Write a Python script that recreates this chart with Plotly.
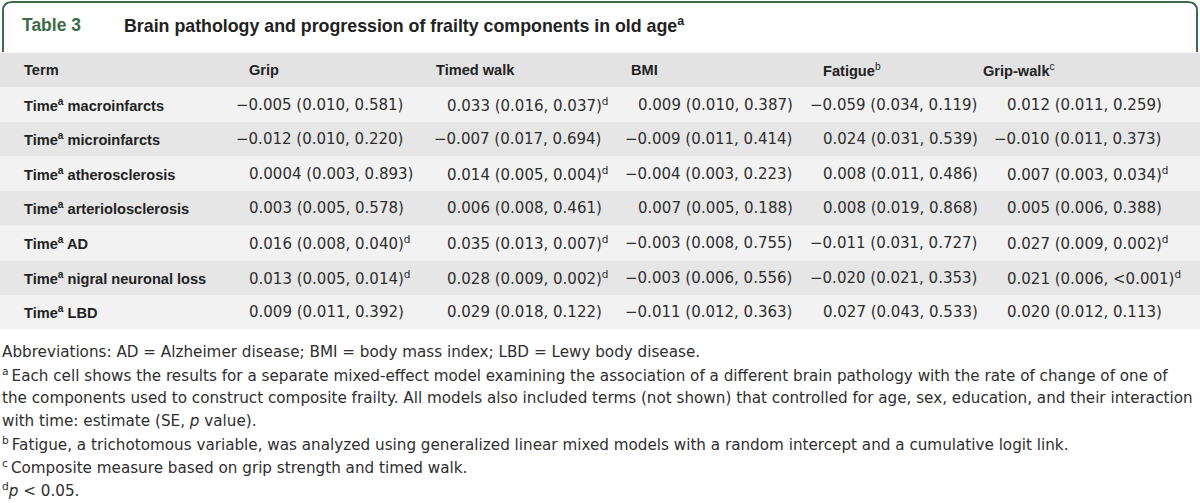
import plotly.graph_objects as go

# ---------------- data ----------------
terms = ["macroinfarcts", "microinfarcts", "atherosclerosis", "arteriolosclerosis",
         "AD", "nigral neuronal loss", "LBD"]
columns = ["Grip", "Timed walk", "BMI", "Fatigue", "Grip-walk"]
column_notes = ["", "", "", "b", "c"]

grip_est = ["-0.005", "-0.012", "0.0004", "0.003", "0.016", "0.013", "0.009"]
grip_se = ["0.010", "0.010", "0.003", "0.005", "0.008", "0.005", "0.011"]
grip_p = ["0.581", "0.220", "0.893", "0.578", "0.040", "0.014", "0.392"]

walk_est = ["0.033", "-0.007", "0.014", "0.006", "0.035", "0.028", "0.029"]
walk_se = ["0.016", "0.017", "0.005", "0.008", "0.013", "0.009", "0.018"]
walk_p = ["0.037", "0.694", "0.004", "0.461", "0.007", "0.002", "0.122"]

bmi_est = ["0.009", "-0.009", "-0.004", "0.007", "-0.003", "-0.003", "-0.011"]
bmi_se = ["0.010", "0.011", "0.003", "0.005", "0.008", "0.006", "0.012"]
bmi_p = ["0.387", "0.414", "0.223", "0.188", "0.755", "0.556", "0.363"]

fatigue_est = ["-0.059", "0.024", "0.008", "0.008", "-0.011", "-0.020", "0.027"]
fatigue_se = ["0.034", "0.031", "0.011", "0.019", "0.031", "0.021", "0.043"]
fatigue_p = ["0.119", "0.539", "0.486", "0.868", "0.727", "0.353", "0.533"]

gw_est = ["0.012", "-0.010", "0.007", "0.005", "0.027", "0.021", "0.020"]
gw_se = ["0.011", "0.011", "0.003", "0.006", "0.009", "0.006", "0.012"]
gw_p = ["0.259", "0.373", "0.034", "0.388", "0.002", "<0.001", "0.113"]

title_label = "Table 3"
title_text = "Brain pathology and progression of frailty components in old age"
footnotes = [
    "Abbreviations: AD = Alzheimer disease; BMI = body mass index; LBD = Lewy body disease.",
    "<sup>a</sup>\u2009Each cell shows the results for a separate mixed-effect model examining the association of a different brain pathology with the rate of change of one of",
    "the components used to construct composite frailty. All models also included terms (not shown) that controlled for age, sex, education, and their interaction",
    "with time: estimate (SE, <i>p</i> value).",
    "<sup>b</sup>\u2009Fatigue, a trichotomous variable, was analyzed using generalized linear mixed models with a random intercept and a cumulative logit link.",
    "<sup>c</sup>\u2009Composite measure based on grip strength and timed walk.",
    "<sup>d</sup><i>p</i> &lt; 0.05.",
]

table = [
    (grip_est, grip_se, grip_p),
    (walk_est, walk_se, walk_p),
    (bmi_est, bmi_se, bmi_p),
    (fatigue_est, fatigue_se, fatigue_p),
    (gw_est, gw_se, gw_p),
]

# ---------------- layout / style ----------------
W, H = 1200, 503
ROW_H = 34.6          # px per table row
HEADER_CENTER = 70.0  # px of header row centre
PAD = 2               # annotation inner padding
term_x = 24 - PAD
header_x = [x - PAD for x in [249, 436, 631, 823, 983]]
value_x = [x - PAD for x in [249, 447, 638, 823, 1007]]
FONT = "Liberation Sans, Arial, sans-serif"
NUM_FONT = "DejaVu Sans, sans-serif"
NUM_SIZE = 15.0
minus_w = 0.838 * NUM_SIZE
FOOT_FONT = "DejaVu Sans, sans-serif"
GREEN = "#3d6b47"
TXT = "#2e2e2e"
HEAD = "#222222"

y_top = -HEADER_CENTER / ROW_H
y_bot = (H - HEADER_CENTER) / ROW_H


def py(px):
    """pixel from top -> paper fraction"""
    return 1 - px / H


fig = go.Figure()
fig.add_trace(go.Scatter(x=[0, W], y=[0, 0], mode="markers",
                         marker=dict(opacity=0), hoverinfo="skip", showlegend=False))

shapes = []
annotations = []

# header band and striped rows
n = len(terms)
for r in range(n + 1):
    if r == 0:
        fill = "#e3e3e3"
    else:
        fill = "#f2f2f2" if r % 2 == 1 else "#e6e6e6"
    shapes.append(dict(type="rect", xref="x", yref="y", x0=0, x1=W,
                       y0=r - 0.5, y1=r + 0.5, fillcolor=fill, line=dict(width=0),
                       layer="below"))

# title frame (rounded top corners)
rad = 9
path = (f"M 3,{py(52)} L 3,{py(2 + rad)} Q 3,{py(2)} {3 + rad},{py(2)} "
        f"L {W - 3 - rad},{py(2)} Q {W - 3},{py(2)} {W - 3},{py(2 + rad)} L {W - 3},{py(52)}")
shapes.append(dict(type="path", xref="x", yref="paper", path=path,
                   line=dict(color=GREEN, width=2)))

# title texts
annotations.append(dict(x=22 - PAD, y=py(25), xref="x", yref="paper", xanchor="left",
                        yanchor="middle", text=f"<b>{title_label}</b>", showarrow=False,
                        font=dict(family=FONT, size=17.5, color=GREEN)))
annotations.append(dict(x=124 - PAD, y=py(25), xref="x", yref="paper", xanchor="left",
                        yanchor="middle", text=f"<b>{title_text}<sup>a</sup></b>",
                        showarrow=False, font=dict(family=FONT, size=17.8, color=HEAD)))

# header row
annotations.append(dict(x=term_x, y=0, xref="x", yref="y", xanchor="left", yanchor="middle",
                        text="<b>Term</b>", showarrow=False,
                        font=dict(family=FONT, size=14.6, color=HEAD)))
for c, name in enumerate(columns):
    note = f"<sup>{column_notes[c]}</sup>" if column_notes[c] else ""
    annotations.append(dict(x=header_x[c], y=0, xref="x", yref="y", xanchor="left",
                            yanchor="middle", text=f"<b>{name}</b>{note}", showarrow=False,
                            font=dict(family=FONT, size=14.6, color=HEAD)))

# body
for r, term in enumerate(terms, start=1):
    annotations.append(dict(x=term_x, y=r, xref="x", yref="y", xanchor="left", yanchor="middle",
                            text=f"<b>Time<sup>a</sup> {term}</b>", showarrow=False,
                            font=dict(family=FONT, size=14.6, color=HEAD)))
    for c, (est, se, p) in enumerate(table):
        e = est[r - 1]
        pv = p[r - 1]
        neg = e.startswith("-")
        sig = pv.startswith("<") or float(pv) < 0.05
        txt = (e.replace("-", "\u2212") + f" ({se[r - 1]}, " + pv.replace("<", "&lt;") + ")"
               + ("<sup>d</sup>" if sig else ""))
        annotations.append(dict(x=value_x[c] - (minus_w if neg else 0), y=r, xref="x", yref="y",
                                xanchor="left", yanchor="middle", text=txt, showarrow=False,
                                font=dict(family=NUM_FONT, size=NUM_SIZE, color=TXT)))

# footnotes
foot_y = [352, 375, 398, 421, 444, 467, 490]
for i, t in enumerate(footnotes):
    annotations.append(dict(x=2 - PAD, y=py(foot_y[i]), xref="x", yref="paper", xanchor="left",
                            yanchor="middle", text=t, showarrow=False,
                            font=dict(family=FOOT_FONT, size=15.2, color=TXT)))

fig.update_layout(
    width=W, height=H,
    margin=dict(l=0, r=0, t=0, b=0),
    paper_bgcolor="white", plot_bgcolor="white",
    xaxis=dict(range=[0, W], visible=False, fixedrange=True),
    yaxis=dict(range=[y_bot, y_top], visible=False, fixedrange=True),
    shapes=shapes, annotations=annotations, showlegend=False,
)

fig.write_html("out.html", config={"displayModeBar": False},
               post_script="document.body.style.margin='0';document.body.style.overflow='hidden';")
